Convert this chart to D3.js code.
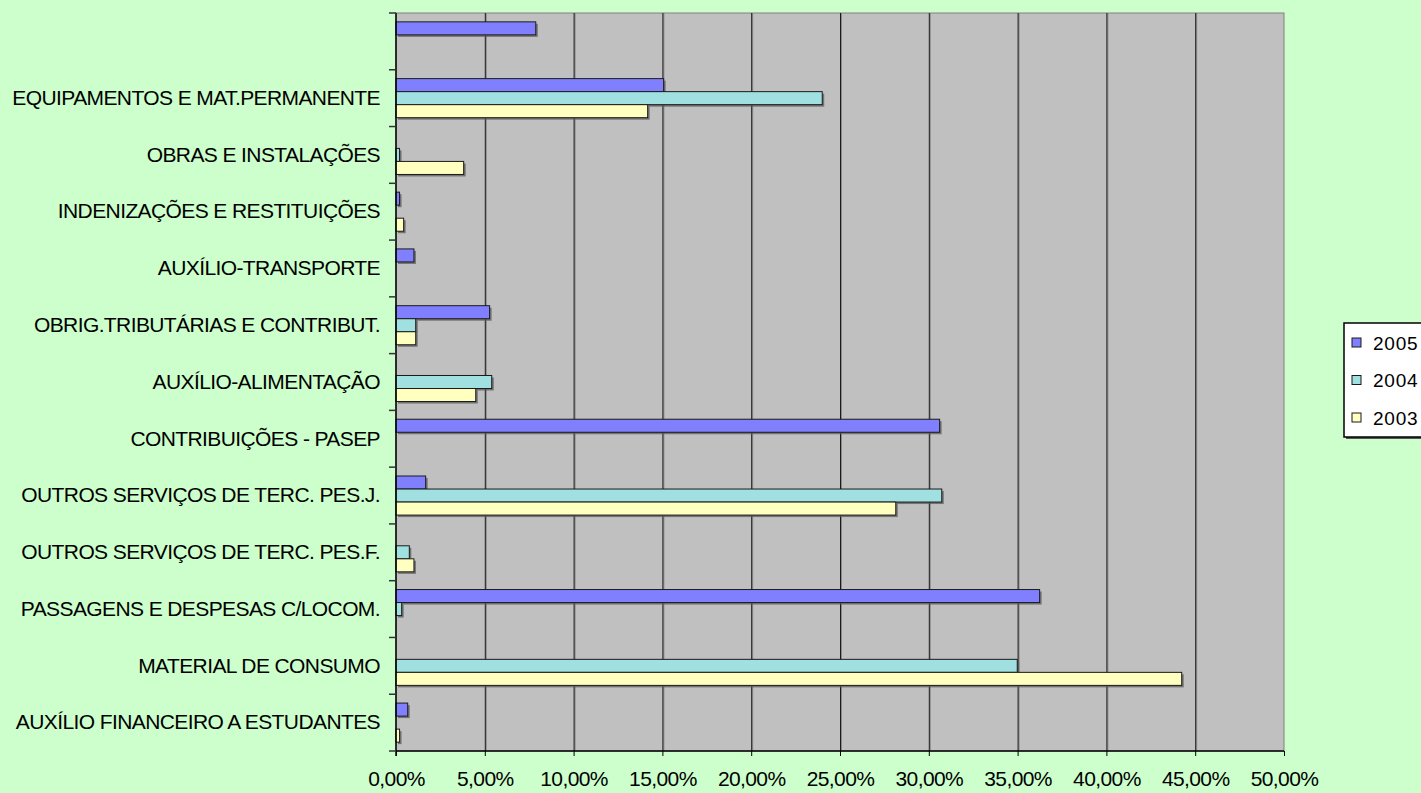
<!DOCTYPE html>
<html>
<head>
<meta charset="utf-8">
<script src="https://cdn.jsdelivr.net/npm/d3@7"></script>
<style>
  html, body { margin: 0; padding: 0; background: #CCFFCC; }
  svg { display: block; }
  text { font-family: "Liberation Sans", Arial, sans-serif; fill: #000; }
</style>
</head>
<body>
<svg id="chart" width="1421" height="793"></svg>
<script>
// Expense categories, listed from the bottom of the chart to the top
const categories = [
  "AUXÍLIO FINANCEIRO A ESTUDANTES",
  "MATERIAL DE CONSUMO",
  "PASSAGENS E DESPESAS C/LOCOM.",
  "OUTROS SERVIÇOS DE TERC. PES.F.",
  "OUTROS SERVIÇOS DE TERC. PES.J.",
  "CONTRIBUIÇÕES - PASEP",
  "AUXÍLIO-ALIMENTAÇÃO",
  "OBRIG.TRIBUTÁRIAS E CONTRIBUT.",
  "AUXÍLIO-TRANSPORTE",
  "INDENIZAÇÕES E RESTITUIÇÕES",
  "OBRAS E INSTALAÇÕES",
  "EQUIPAMENTOS E MAT.PERMANENTE",
  ""
];

// Share of spending (%) per year, same order as categories
const values2005 = [0.66, 0, 36.24, 0, 1.67, 30.61, 0, 5.27, 1.01, 0.20, 0, 15.07, 7.87];
const values2004 = [0, 34.98, 0.32, 0.75, 30.73, 0, 5.39, 1.11, 0, 0, 0.20, 24.00, 0];
const values2003 = [0.20, 44.24, 0, 1.01, 28.14, 0, 4.49, 1.11, 0, 0.43, 3.81, 14.17, 0];

const seriesNames = ["2005", "2004", "2003"];
const seriesColors = ["#8080FF", "#A0E0E0", "#FFFFC0"];
const xTicks = [0, 5, 10, 15, 20, 25, 30, 35, 40, 45, 50];

const seriesValues = [values2005, values2004, values2003];
const rows = categories.map((c, i) => ({
  category: c,
  idx: i,
  bars: seriesNames.map((s, k) => ({ series: s, value: seriesValues[k][i] }))
}));

const svg = d3.select("#chart");
const plot = { left: 396, right: 1284, top: 13, bottom: 751 };

const x = d3.scaleLinear().domain([0, 50]).range([plot.left, plot.right]);
// Top of the chart is the last category
const y0 = d3.scaleBand()
  .domain(d3.range(categories.length).reverse())
  .range([plot.top, plot.bottom])
  .padding(0);
const y1 = d3.scaleBand()
  .domain(seriesNames)
  .range([0, y0.bandwidth()])
  .paddingInner(0)
  .paddingOuter(0.68);
const color = d3.scaleOrdinal().domain(seriesNames).range(seriesColors);

// Plot area
svg.append("rect")
  .attr("x", plot.left).attr("y", plot.top)
  .attr("width", plot.right - plot.left).attr("height", plot.bottom - plot.top)
  .attr("fill", "#C0C0C0")
  .attr("stroke", "#808080").attr("stroke-width", 1);

// Vertical gridlines with a soft shadow
const grid = svg.append("g");
xTicks.filter(t => t > 0 && t < 50).forEach(t => {
  grid.append("line")
    .attr("x1", x(t) + 1.5).attr("x2", x(t) + 1.5)
    .attr("y1", plot.top).attr("y2", plot.bottom)
    .attr("stroke", "#8a8a8a").attr("stroke-width", 1);
  grid.append("line")
    .attr("x1", x(t) + 0.5).attr("x2", x(t) + 0.5)
    .attr("y1", plot.top).attr("y2", plot.bottom)
    .attr("stroke", "#1a1a1a").attr("stroke-width", 1);
});

// Bars
const groups = svg.append("g").selectAll("g")
  .data(rows).join("g")
  .attr("transform", d => `translate(0,${y0(d.idx)})`);

const bars = groups.selectAll("g.bar")
  .data(d => d.bars.filter(b => b.value > 0))
  .join("g").attr("class", "bar");

bars.append("rect")
  .attr("x", x(0) + 2)
  .attr("y", b => y1(b.series) + 2)
  .attr("width", b => x(b.value) - x(0))
  .attr("height", y1.bandwidth())
  .attr("fill", "#5a5a5a")
  .attr("opacity", 0.75);

bars.append("rect")
  .attr("x", x(0))
  .attr("y", b => y1(b.series))
  .attr("width", b => x(b.value) - x(0))
  .attr("height", y1.bandwidth())
  .attr("fill", b => color(b.series))
  .attr("stroke", "#1a1a1a").attr("stroke-width", 1);

// Category axis
const yAxis = d3.axisLeft(
  d3.scaleBand().domain(categories.map((c, i) => i).reverse()).range([plot.top, plot.bottom])
).tickSize(0).tickFormat(i => categories[i]);

const yAxisG = svg.append("g")
  .attr("transform", `translate(${plot.left},0)`)
  .call(yAxis);
yAxisG.select(".domain").remove();
yAxisG.selectAll("text")
  .attr("x", -16)
  .style("font-size", "21px")
  .style("letter-spacing", "-0.6px");

svg.append("line")
  .attr("x1", plot.left).attr("x2", plot.left)
  .attr("y1", plot.top).attr("y2", plot.bottom + 5)
  .attr("stroke", "#000").attr("stroke-width", 1.5);

// Category separator ticks
const sepTicks = d3.range(categories.length + 1).map(i => plot.top + i * y0.step());
svg.append("g").selectAll("line")
  .data(sepTicks).join("line")
  .attr("x1", plot.left - 7).attr("x2", plot.left)
  .attr("y1", d => d).attr("y2", d => d)
  .attr("stroke", "#333").attr("stroke-width", 1.5);

// Value axis
const xAxis = d3.axisBottom(x)
  .tickValues(xTicks)
  .tickSize(5)
  .tickFormat(d => d3.format(".2f")(d).replace(".", ",") + "%");

const xAxisG = svg.append("g")
  .attr("transform", `translate(0,${plot.bottom})`)
  .call(xAxis);
xAxisG.select(".domain")
  .attr("stroke", "#000").attr("stroke-width", 1.5)
  .attr("d", `M${plot.left},0H${plot.right}`);
xAxisG.selectAll(".tick line").attr("stroke", "#000").attr("stroke-width", 1);
xAxisG.selectAll("text")
  .attr("y", 35)
  .attr("dy", 0)
  .style("font-size", "21px")
  .style("letter-spacing", "-0.6px");

// Legend
const legend = svg.append("g").attr("transform", "translate(1344,323)");
legend.append("rect")
  .attr("x", 2).attr("y", 2).attr("width", 80).attr("height", 114)
  .attr("fill", "#555");
legend.append("rect")
  .attr("x", 0).attr("y", 0).attr("width", 80).attr("height", 114)
  .attr("fill", "#fff").attr("stroke", "#000").attr("stroke-width", 1.5);

const legendRows = legend.selectAll("g.item")
  .data(seriesNames).join("g").attr("class", "item")
  .attr("transform", (d, i) => `translate(0,${20 + i * 37.5})`);
legendRows.append("rect")
  .attr("x", 8).attr("y", -5).attr("width", 9).attr("height", 9)
  .attr("fill", d => color(d)).attr("stroke", "#1a1a1a").attr("stroke-width", 1);
legendRows.append("text")
  .attr("x", 29).attr("y", 0).attr("dy", "0.35em")
  .style("font-size", "19px")
  .style("letter-spacing", "0.8px")
  .text(d => d);
</script>
</body>
</html>
